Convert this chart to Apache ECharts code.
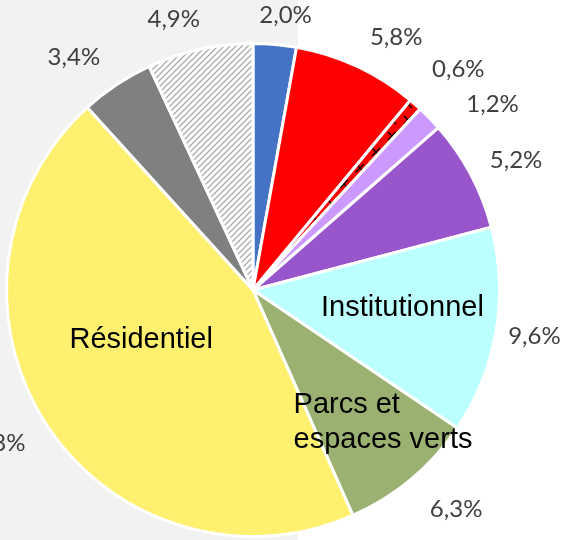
<!DOCTYPE html>
<html><head><meta charset="utf-8">
<script src="https://cdn.jsdelivr.net/npm/echarts@6/dist/echarts.min.js"></script>
<style>
html,body{margin:0;padding:0;background:#fff;}
#c{width:564px;height:540px;background:linear-gradient(to right,#f2f2f2 0,#f2f2f2 298px,#ffffff 298px,#ffffff 100%);}
</style></head><body><div id="c"></div>
<script>
// Data (clockwise from 12 o'clock)
const shares = [2.0, 5.8, 0.6, 1.2, 5.2, 9.6, 6.3, 31.8, 3.4, 4.9];
const categoryLabels = ['', '', '', '', '', 'Institutionnel', 'Parcs et\nespaces verts', 'Résidentiel', '', ''];

// Styles
const sliceColors = ['#4472C4', '#FF0000', 'HATCH_RED', '#CC99FF', '#9955CC', '#BBFFFF', '#9BB171', '#FFF16F', '#808080', 'HATCH_GRAY'];
const insideLabelOffsets = [null, null, null, null, null, [25, -3], [49, 36], [-6, -19], null, null];
const valueLabelNudges = [[7, 2], [19, -2], [25, -4], [30, 5], [11, 6], [-3, -2], [18, -2], [-19, -4], [-26, 8], [-17, 6]];

function hatchGray() {
  const c = document.createElement('canvas'); c.width = 6; c.height = 6;
  const g = c.getContext('2d');
  g.fillStyle = '#ffffff'; g.fillRect(0, 0, 6, 6);
  g.strokeStyle = '#ababab'; g.lineWidth = 1.3;
  g.beginPath(); g.moveTo(-1, 7); g.lineTo(7, -1); g.stroke();
  g.beginPath(); g.moveTo(-1, 1); g.lineTo(1, -1); g.stroke();
  g.beginPath(); g.moveTo(5, 7); g.lineTo(7, 5); g.stroke();
  return { image: c, repeat: 'repeat' };
}
function hatchRed() {
  const c = document.createElement('canvas'); c.width = 16; c.height = 16;
  const g = c.getContext('2d');
  g.fillStyle = '#FF0000'; g.fillRect(0, 0, 16, 16);
  g.strokeStyle = '#000000'; g.lineWidth = 1.5;
  g.beginPath(); g.moveTo(4, 4); g.lineTo(12, 12); g.moveTo(12, 4); g.lineTo(4, 12); g.stroke();
  return { image: c, repeat: 'repeat' };
}
function resolveColor(c) {
  if (c === 'HATCH_RED') return hatchRed();
  if (c === 'HATCH_GRAY') return hatchGray();
  return c;
}

const chart = echarts.init(document.getElementById('c'), null, { renderer: 'canvas' });

const geom = {
  left: -200, top: 0, width: 964, height: 540,
  center: [453, 290], radius: 246.5, startAngle: 90, clockwise: true
};

const outerData = shares.map((v, i) => ({
  value: v, name: 'p' + i,
  itemStyle: { color: resolveColor(sliceColors[i]) }
}));
const innerData = shares.map((v, i) => ({
  value: v, name: 'q' + i,
  label: categoryLabels[i] ? {
    show: true,
    formatter: categoryLabels[i].indexOf('\n') >= 0
      ? categoryLabels[i].split('\n').map(s => '{l|' + s + '}').join('\n')
      : categoryLabels[i],
    offset: insideLabelOffsets[i]
  } : { show: false }
}));

chart.setOption({
  backgroundColor: 'transparent',
  animation: false,
  series: [
    Object.assign({
      type: 'pie',
      silent: true,
      avoidLabelOverlap: true,
      data: outerData,
      itemStyle: { borderColor: '#ffffff', borderWidth: 3 },
      label: {
        show: true, position: 'outside',
        formatter: p => p.value.toFixed(1).replace('.', ',') + '%',
        color: '#404040', fontFamily: 'Lato', fontSize: 24,
        distanceToLabelLine: 0
      },
      labelLine: { show: false, length: 42, length2: 0 },
      labelLayout: p => ({ align: 'center', dx: valueLabelNudges[p.dataIndex][0], dy: valueLabelNudges[p.dataIndex][1] }),
      emphasis: { disabled: true }
    }, geom),
    Object.assign({
      type: 'pie',
      silent: true,
      data: innerData,
      itemStyle: { color: 'rgba(0,0,0,0)', borderWidth: 0 },
      label: {
        position: 'inside',
        color: '#000000', fontFamily: 'Liberation Sans', fontSize: 29,
        lineHeight: 35,
        rich: { l: { align: 'left', fontFamily: 'Liberation Sans', fontSize: 29, lineHeight: 35, color: '#000000' } }
      },
      labelLine: { show: false },
      emphasis: { disabled: true }
    }, geom)
  ]
});
</script></body></html>
